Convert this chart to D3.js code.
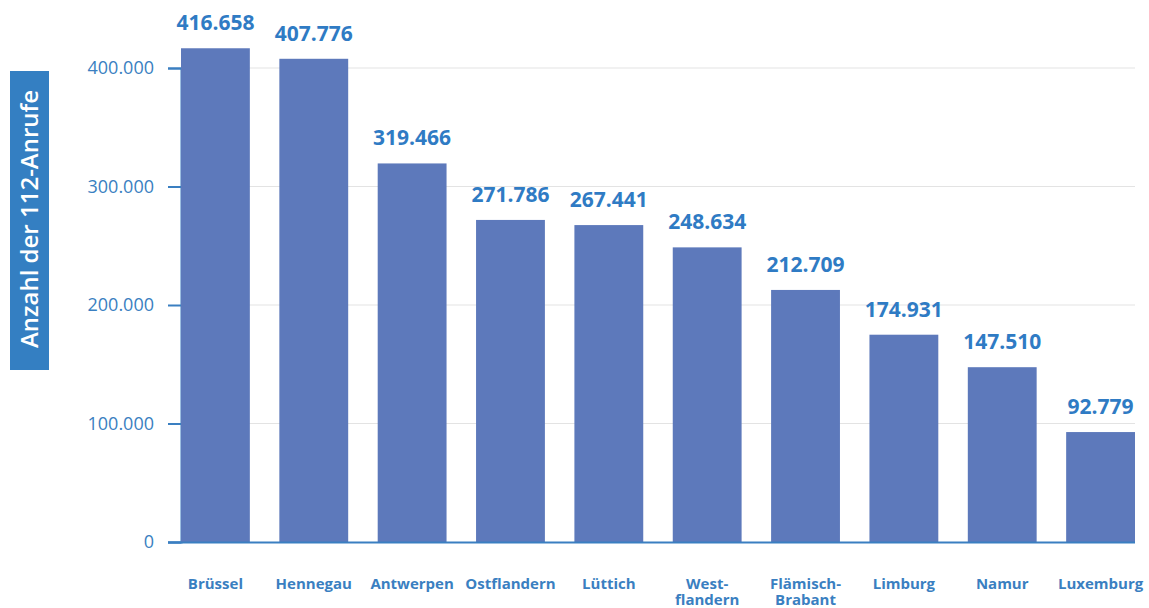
<!DOCTYPE html>
<html>
<head>
<meta charset="utf-8">
<script src="https://cdn.jsdelivr.net/npm/d3@7"></script>
<style>
  body { margin: 0; background: #fff; }
  svg { font-family: "Open Sans", sans-serif; }
</style>
</head>
<body>
<svg id="chart" width="1149" height="608"></svg>
<script>
var provinces = ["Brüssel", "Hennegau", "Antwerpen", "Ostflandern", "Lüttich",
  "West-\nflandern", "Flämisch-\nBrabant", "Limburg", "Namur", "Luxemburg"]
var calls = [416658, 407776, 319466, 271786, 267441, 248634, 212709, 174931, 147510, 92779]
var yTicks = [0, 100000, 200000, 300000, 400000]
var yTitle = "Anzahl der 112-Anrufe"

var svg = d3.select("#chart")
var blue = "#3a7fc1"
var barColor = "#5d79bb"

var plotLeft = 181, plotRight = 1135, plotBottom = 542, plotTop = 68

var x = d3.scaleBand()
  .domain(provinces)
  .range([plotLeft, plotRight])
  .paddingInner(0.3)
  .paddingOuter(0)

var y = d3.scaleLinear()
  .domain([0, 400000])
  .range([plotBottom, plotTop])

var fmt = function(v) {
  return d3.format(",")(v).replace(/,/g, ".")
}

// gridlines
svg.append("g")
  .selectAll("line")
  .data(yTicks.slice(1))
  .enter().append("line")
  .attr("x1", plotLeft)
  .attr("x2", plotRight)
  .attr("y1", d => y(d))
  .attr("y2", d => y(d))
  .attr("stroke", "#e3e3e3")
  .attr("stroke-width", 1)

// y axis
var yAxis = svg.append("g")
  .attr("transform", `translate(${plotLeft},0)`)
  .call(d3.axisLeft(y).tickValues(yTicks).tickSize(13).tickPadding(14).tickFormat(fmt))
yAxis.select(".domain").attr("stroke", blue).attr("stroke-width", 2)
yAxis.selectAll(".tick line").attr("stroke", blue).attr("stroke-width", 2)
yAxis.selectAll(".tick text")
  .attr("fill", blue)
  .style("font-size", "18px")
  .style("font-family", "Open Sans")

// bars
svg.append("g")
  .selectAll("rect")
  .data(calls)
  .enter().append("rect")
  .attr("x", (d, i) => x(provinces[i]))
  .attr("y", d => y(d))
  .attr("width", x.bandwidth())
  .attr("height", d => plotBottom - y(d))
  .attr("fill", barColor)

// x axis line
svg.append("line")
  .attr("x1", plotLeft - 13)
  .attr("x2", plotRight)
  .attr("y1", plotBottom + 0.5)
  .attr("y2", plotBottom + 0.5)
  .attr("stroke", blue)
  .attr("stroke-width", 2)

// value labels
svg.append("g")
  .selectAll("text")
  .data(calls)
  .enter().append("text")
  .attr("x", (d, i) => x(provinces[i]) + x.bandwidth() / 2)
  .attr("y", d => y(d) - 18)
  .attr("text-anchor", "middle")
  .attr("fill", "#2f7bc4")
  .style("font-size", "21px")
  .style("font-weight", "bold")
  .text(fmt)

// category labels
svg.append("g")
  .selectAll("text")
  .data(provinces)
  .enter().append("text")
  .attr("x", d => x(d) + x.bandwidth() / 2)
  .attr("y", 589)
  .attr("text-anchor", "middle")
  .attr("fill", blue)
  .style("font-size", "15px")
  .style("font-weight", "bold")
  .each(function(d) {
    var lines = d.split("\n")
    var t = d3.select(this)
    lines.forEach((l, k) => {
      t.append("tspan")
        .attr("x", x(d) + x.bandwidth() / 2)
        .attr("dy", k == 0 ? 0 : 16)
        .text(l)
    })
  })

// y title box
svg.append("rect")
  .attr("x", 10)
  .attr("y", 71)
  .attr("width", 39)
  .attr("height", 299)
  .attr("fill", "#347fc2")
svg.append("text")
  .attr("transform", "translate(38,219) rotate(-90)")
  .attr("text-anchor", "middle")
  .attr("fill", "#fff")
  .style("font-size", "24px")
  .style("font-weight", 600)
  .text(yTitle)
</script>
</body>
</html>
